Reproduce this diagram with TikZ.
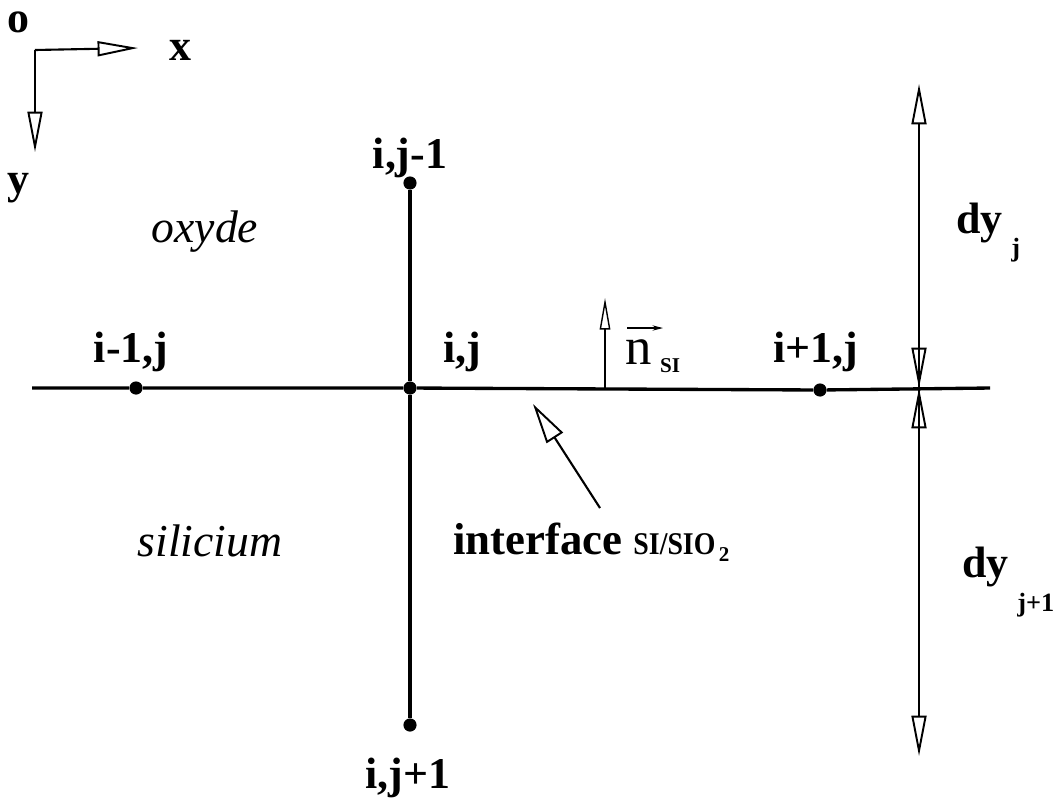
\documentclass[tikz,border=0pt]{standalone}
\usepackage{fontspec}
\setmainfont{Liberation Serif}
\usetikzlibrary{arrows.meta}

\tikzset{
  mainline/.style={line width=1.9pt},
  thinline/.style={line width=1.2pt},
  gridpt/.style={circle, fill=black, inner sep=0pt, minimum size=7.5pt},
  lbl/.style={font=\bfseries\fontsize{25}{27}\selectfont, inner sep=1pt},
  region/.style={font=\itshape\fontsize{26}{28}\selectfont, inner sep=1pt},
  dylbl/.style={font=\bfseries\fontsize{25}{27}\selectfont, inner sep=0pt, anchor=base west},
  dysub/.style={font=\bfseries\fontsize{15}{16}\selectfont, inner sep=0pt, anchor=base west},
  opentip/.style={-{Triangle[open, length=23pt, width=8.5pt, line width=1.1pt]}},
}

\begin{document}
\begin{tikzpicture}[x=0.02cm, y=-0.02cm]
  \useasboundingbox (0,0) rectangle (1060,806);

  % --- axes (top left corner) ---
  \coordinate (orig) at (35,50);
  \coordinate (xend) at (138,48);
  \coordinate (yend) at (35,152);
  \draw[thinline, opentip] (orig) -- (xend);
  \draw[thinline, opentip] (orig) -- (yend);
  \node[lbl] (olbl) at (18,22) {o};
  \node[lbl] (xlbl) at (180,50) {x};
  \node[lbl] (ylbl) at (18,188) {y};

  % --- mesh points ---
  \node[gridpt] (c)  at (410,388) {};
  \node[gridpt] (w)  at (136,388) {};
  \node[gridpt] (e)  at (820,390) {};
  \node[gridpt] (n)  at (410,183) {};
  \node[gridpt] (s)  at (410,725) {};
  \coordinate (lend) at (32,388);
  \coordinate (rend) at (990,388);

  \draw[mainline] (lend) -- (w) -- (c) -- (e) -- (rend);
  \draw[mainline] (n) -- (c) -- (s);

  \node[lbl] (nlbl) at (410,158) {i,j-1};
  \node[lbl] (wlbl) at (131,352) {i-1,j};
  \node[lbl] (clbl) at (462,352) {i,j};
  \node[lbl] (elbl) at (816,352) {i+1,j};
  \node[lbl] (slbl) at (408,778) {i,j+1};

  % --- regions ---
  \node[region] (ox) at (205,232) {oxyde};
  \node[region] (si) at (210,541) {silicium};

  % --- normal vector ---
  \coordinate (nbase) at (605,388);
  \coordinate (ntop) at (605,298);
  \draw[line width=0.8pt, -{Triangle[open, length=18pt, width=6pt, line width=0.8pt]}] (nbase) -- (ntop);
  \node[font=\fontsize{30}{30}\selectfont, inner sep=0pt] (nsym) at (639,352) {n};
  \node[font=\bfseries\fontsize{12}{13}\selectfont, inner sep=0pt] (nsub) at (670,366) {SI};
  \coordinate (varl) at (627,328);
  \coordinate (varr) at (663,328);
  \draw[line width=0.6pt, -{Stealth[length=6pt, width=3pt]}] (varl) -- (varr);

  % --- interface pointer ---
  \node[lbl, anchor=west, font=\bfseries\fontsize{25.5}{28}\selectfont] (itf) at (451,542)
    {interface \fontsize{18}{20}\selectfont\scalebox{0.88}[1]{SI/SIO}\raisebox{-0.5ex}{\fontsize{12}{13}\selectfont\,2}};
  \coordinate (ptail) at (600,508);
  \coordinate (phead) at (533,404);
  \draw[thinline, -{Triangle[open, length=23pt, width=11pt, line width=1.1pt]}] (ptail) -- (phead);

  % --- cell heights ---
  \coordinate (dtop) at (919,84);
  \coordinate (dmid) at (919,388);
  \coordinate (dbot) at (919,756);
  \draw[thinline, opentip] (dmid) -- (dtop);
  \draw[thinline, opentip] (dmid) -- (dbot);
  \draw[thinline, {Triangle[open, length=23pt, width=8.5pt, line width=1.1pt]}-] (dmid) -- ++(0,-1);
  \draw[thinline, {Triangle[open, length=23pt, width=8.5pt, line width=1.1pt]}-] (dmid) -- ++(0,1);
  \node[dylbl] (dyj) at (956,233) {dy};
  \node[dysub] (dyjs) at (1011,256) {j};
  \node[dylbl] (dyj1) at (962,577) {dy};
  \node[dysub] (dyj1s) at (1017,611) {j+1};
\end{tikzpicture}
\end{document}
